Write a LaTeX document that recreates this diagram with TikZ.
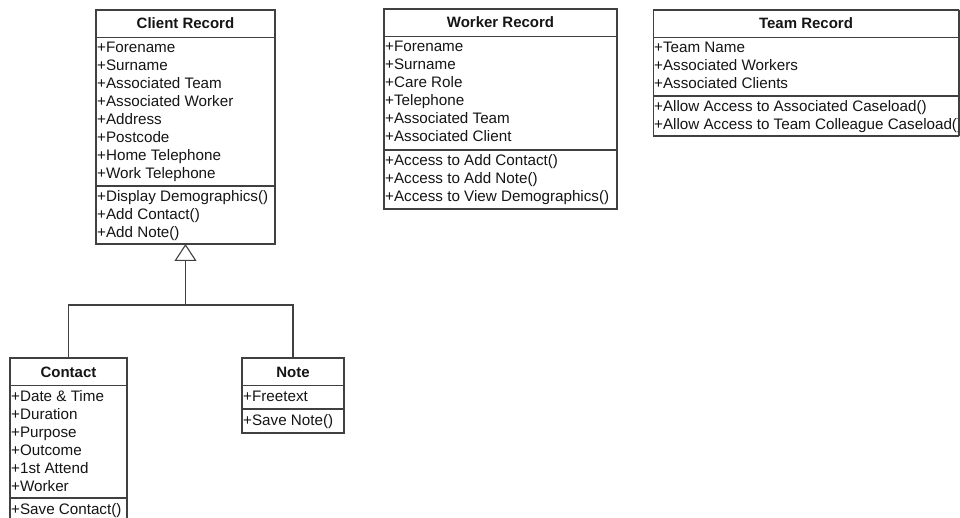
\documentclass[tikz,border=0pt]{standalone}
\usepackage{fontspec}
\setmainfont{Liberation Sans}
\usetikzlibrary{arrows.meta}
\definecolor{linec}{HTML}{404040}
\definecolor{txtc}{HTML}{151515}
\tikzset{
  classbox/.style={draw=linec, line width=1.1pt, rectangle, anchor=north west, inner sep=0pt, outer sep=0pt, fill=white},
  divline/.style={draw=linec, line width=1.1pt},
  titletext/.style={anchor=base, inner sep=0pt, text=txtc, font=\fontsize{15}{18}\selectfont\bfseries},
  memtext/.style={anchor=base west, inner sep=0pt, text=txtc, font=\fontsize{15.2}{18}\selectfont},
  conn/.style={draw=linec, line width=1.1pt},
}
% #1 name, #2 left, #3 right, #4 top, #5 divider, #6 bottom, #7 title, #8 attributes, #9 methods
\newcommand\UMLclass[9]{%
  \node[classbox, minimum width={#3-#2}, minimum height={#6-#4}] (#1) at (#2,#4) {};
  \node[titletext] (#1-title) at ({(#2+#3)/2},{#4+19}) {#7};
  \draw[divline] (#2,{#4+27.5}) -- (#3,{#4+27.5});
  \draw[divline] (#2,#5) -- (#3,#5);
  \foreach \t [count=\i] in {#8}
    \node[memtext] (#1-a\i) at ({#2+1},{#4+43+18*(\i-1)}) {\t};
  \foreach \t [count=\i] in {#9}
    \node[memtext] (#1-m\i) at ({#2+1},{#5+16+18*(\i-1)}) {\t};
}
\begin{document}
\begin{tikzpicture}[x=1pt,y=-1pt]
\useasboundingbox (0,0) rectangle (960,518);
\clip (0,0) rectangle (960,518);
\fill[white] (0,0) rectangle (960,518);

\UMLclass{client}{96}{275}{10}{186}{244}{Client Record}
  {+Forename,+Surname,+Associated Team,+Associated Worker,+Address,+Postcode,+Home Telephone,+Work Telephone}
  {+Display Demographics(),+Add Contact(),+Add Note()}

\UMLclass{worker}{384}{617}{9}{150}{209}{Worker Record}
  {+Forename,+Surname,+Care Role,+Telephone,+Associated Team,+Associated Client}
  {+Access to Add Contact(),+Access to Add Note(),+Access to View Demographics()}

\begin{scope}
\clip (653,0) rectangle (959,518);
\UMLclass{team}{653}{959}{10}{96}{136}{Team Record}
  {+Team Name,+Associated Workers,+Associated Clients}
  {+Allow Access to Associated Caseload(),+Allow Access to Team Colleague Caseload()}
\end{scope}
\draw[divline] (959,10) -- (959,136);

\UMLclass{contact}{10}{127}{358}{498}{540}{Contact}
  {+Date \& Time,+Duration,+Purpose,+Outcome,+1st Attend,+Worker}
  {+Save Contact()}

\UMLclass{note}{242}{344}{358}{409}{433}{Note}
  {+Freetext}
  {+Save Note()}

\coordinate (join) at (185.5,305);
\draw[conn] (contact.north) |- (join);
\draw[conn] (note.north) |- (join);
\draw[conn, -{Triangle[open, length=17pt, width=22pt, fill=white]}] (join) -- (client.south);
\end{tikzpicture}
\end{document}
